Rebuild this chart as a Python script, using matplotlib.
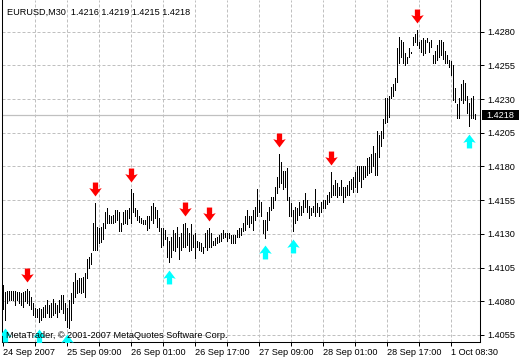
import numpy as np
import matplotlib
matplotlib.use("Agg")
from matplotlib import pyplot as plt
from matplotlib import transforms
from matplotlib.path import Path
from matplotlib.patches import Rectangle

# EURUSD M30 bars (one value per bar)
symbol = "EURUSD,M30"
last_ohlc = [1.4216, 1.4219, 1.4215, 1.4218]

highs = [
    1.4092, 1.4087, 1.4088, 1.4088, 1.4088, 1.4088, 1.4088, 1.4087, 1.4087, 1.4086,
    1.4087, 1.4088, 1.4089, 1.4088, 1.4083, 1.4079, 1.4075, 1.4074, 1.4075, 1.4074,
    1.4076, 1.4077, 1.4081, 1.4077, 1.4079, 1.4082, 1.4079, 1.4077, 1.4081, 1.4085,
    1.4085, 1.4079, 1.4075, 1.4081, 1.4086, 1.4094, 1.4101, 1.4096, 1.4097, 1.4097,
    1.4098, 1.4101, 1.4111, 1.4113, 1.4116, 1.4138, 1.4153, 1.4135, 1.4134, 1.4135,
    1.4138, 1.4146, 1.4149, 1.4144, 1.4143, 1.4144, 1.4148, 1.4148, 1.4146, 1.4138,
    1.4146, 1.4148, 1.4148, 1.4149, 1.4163, 1.4160, 1.4149, 1.4148, 1.4143, 1.4142,
    1.4140, 1.4140, 1.4143, 1.4143, 1.4151, 1.4153, 1.4150, 1.4148, 1.4142, 1.4134,
    1.4134, 1.4133, 1.4128, 1.4125, 1.4128, 1.4133, 1.4131, 1.4135, 1.4128, 1.4131,
    1.4137, 1.4138, 1.4134, 1.4131, 1.4137, 1.4129, 1.4131, 1.4125, 1.4124, 1.4123,
    1.4120, 1.4131, 1.4133, 1.4134, 1.4131, 1.4125, 1.4127, 1.4128, 1.4129, 1.4131,
    1.4133, 1.4131, 1.4131, 1.4131, 1.4129, 1.4129, 1.4129, 1.4133, 1.4134, 1.4134,
    1.4138, 1.4143, 1.4148, 1.4143, 1.4143, 1.4148, 1.4150, 1.4163, 1.4155, 1.4154,
    1.4140, 1.4140, 1.4146, 1.4150, 1.4157, 1.4157, 1.4165, 1.4172, 1.4189, 1.4183,
    1.4177, 1.4177, 1.4179, 1.4157, 1.4153, 1.4148, 1.4150, 1.4149, 1.4154, 1.4151,
    1.4155, 1.4160, 1.4155, 1.4151, 1.4149, 1.4151, 1.4163, 1.4153, 1.4150, 1.4154,
    1.4155, 1.4155, 1.4159, 1.4161, 1.4176, 1.4166, 1.4170, 1.4168, 1.4165, 1.4170,
    1.4165, 1.4165, 1.4166, 1.4169, 1.4171, 1.4172, 1.4176, 1.4180, 1.4180, 1.4180,
    1.4180, 1.4180, 1.4186, 1.4187, 1.4189, 1.4195, 1.4190, 1.4206, 1.4203, 1.4206,
    1.4215, 1.4231, 1.4231, 1.4232, 1.4239, 1.4241, 1.4246, 1.4268, 1.4276, 1.4274,
    1.4272, 1.4264, 1.4261, 1.4268, 1.4265, 1.4276, 1.4278, 1.4281, 1.4272, 1.4274,
    1.4275, 1.4274, 1.4275, 1.4272, 1.4274, 1.4263, 1.4266, 1.4270, 1.4274, 1.4274,
    1.4272, 1.4266, 1.4263, 1.4259, 1.4258, 1.4255, 1.4238, 1.4226, 1.4231, 1.4241,
    1.4244, 1.4242, 1.4232, 1.4227, 1.4231, 1.4232, 1.4219,
]

lows = [
    1.4074, 1.4066, 1.4079, 1.4081, 1.4081, 1.4081, 1.4077, 1.4081, 1.4079, 1.4077,
    1.4076, 1.4080, 1.4079, 1.4077, 1.4074, 1.4070, 1.4068, 1.4068, 1.4065, 1.4066,
    1.4068, 1.4068, 1.4071, 1.4068, 1.4068, 1.4070, 1.4071, 1.4068, 1.4072, 1.4074,
    1.4071, 1.4066, 1.4061, 1.4060, 1.4066, 1.4079, 1.4083, 1.4086, 1.4087, 1.4086,
    1.4087, 1.4083, 1.4097, 1.4105, 1.4108, 1.4118, 1.4118, 1.4118, 1.4123, 1.4124,
    1.4126, 1.4134, 1.4138, 1.4138, 1.4138, 1.4138, 1.4139, 1.4140, 1.4132, 1.4132,
    1.4137, 1.4138, 1.4137, 1.4142, 1.4138, 1.4146, 1.4143, 1.4140, 1.4139, 1.4138,
    1.4137, 1.4137, 1.4133, 1.4134, 1.4140, 1.4138, 1.4142, 1.4135, 1.4132, 1.4120,
    1.4122, 1.4126, 1.4113, 1.4109, 1.4113, 1.4118, 1.4117, 1.4120, 1.4111, 1.4118,
    1.4120, 1.4120, 1.4122, 1.4117, 1.4118, 1.4120, 1.4112, 1.4120, 1.4118, 1.4117,
    1.4116, 1.4120, 1.4118, 1.4120, 1.4120, 1.4122, 1.4122, 1.4123, 1.4124, 1.4125,
    1.4127, 1.4128, 1.4125, 1.4127, 1.4123, 1.4123, 1.4123, 1.4128, 1.4128, 1.4129,
    1.4132, 1.4133, 1.4137, 1.4135, 1.4138, 1.4133, 1.4140, 1.4143, 1.4146, 1.4143,
    1.4131, 1.4127, 1.4133, 1.4140, 1.4148, 1.4149, 1.4155, 1.4160, 1.4165, 1.4168,
    1.4163, 1.4165, 1.4155, 1.4143, 1.4143, 1.4132, 1.4138, 1.4140, 1.4144, 1.4144,
    1.4146, 1.4150, 1.4146, 1.4142, 1.4144, 1.4146, 1.4143, 1.4146, 1.4143, 1.4146,
    1.4149, 1.4149, 1.4152, 1.4154, 1.4157, 1.4159, 1.4159, 1.4157, 1.4159, 1.4159,
    1.4154, 1.4157, 1.4159, 1.4159, 1.4163, 1.4161, 1.4165, 1.4161, 1.4169, 1.4165,
    1.4171, 1.4172, 1.4174, 1.4175, 1.4176, 1.4180, 1.4174, 1.4174, 1.4187, 1.4195,
    1.4201, 1.4212, 1.4213, 1.4217, 1.4231, 1.4232, 1.4237, 1.4243, 1.4257, 1.4261,
    1.4257, 1.4255, 1.4257, 1.4261, 1.4264, 1.4270, 1.4272, 1.4270, 1.4268, 1.4265,
    1.4263, 1.4264, 1.4272, 1.4265, 1.4269, 1.4257, 1.4257, 1.4259, 1.4261, 1.4263,
    1.4260, 1.4257, 1.4257, 1.4254, 1.4248, 1.4229, 1.4228, 1.4216, 1.4216, 1.4229,
    1.4227, 1.4229, 1.4220, 1.4210, 1.4216, 1.4216, 1.4215,
]

# bars where the indicator put its arrows
sell_bars = [12, 46, 64, 91, 103, 138, 164, 207]
buy_bars = [1, 18, 32, 83, 131, 145, 233]

price_ticks = [1.4055, 1.4080, 1.4105, 1.4130, 1.4155, 1.4180, 1.4205, 1.4230, 1.4255, 1.4280]
time_labels = ['24 Sep 2007', '25 Sep 09:00', '26 Sep 01:00', '26 Sep 17:00',
               '27 Sep 09:00', '28 Sep 01:00', '28 Sep 17:00', '1 Oct 08:30']
label_step = 32   # bars between time labels
grid_step = 16    # bars between vertical grid lines

plt.rcParams['font.family'] = ['Liberation Sans', 'DejaVu Sans']
plt.rcParams['font.size'] = 6.6

W, H = 520, 360
fig = plt.figure(figsize=(W / 100, H / 100), dpi=100)
fig.patch.set_facecolor('white')
ax = fig.add_axes([2 / W, 18 / H, 478 / W, 342 / H])
ax.set_facecolor('white')

x = np.arange(len(highs))
ymin, ymax = 1.40498, 1.43035
ax.set_xlim(-0.65, 238.35)
ax.set_ylim(ymin, ymax)

grid_kw = dict(color='#c0c0c0', lw=0.72, ls=(0, (3, 2)), zorder=0)
for p in price_ticks:
    ax.axhline(p, **grid_kw)
for i in range(grid_step, 239, grid_step):
    ax.axvline(i, **grid_kw)

last_price = last_ohlc[3]
ax.axhline(last_price, color='#c0c0c0', lw=0.9, zorder=1)

ax.vlines(x, lows, highs, colors='black', linewidth=0.72, antialiased=False, zorder=3)

# arrow markers (thick Wingdings-like arrows)
down_verts = [(-0.19, 0.5), (0.19, 0.5), (0.19, 0.02), (0.45, 0.1), (0.0, -0.5),
              (-0.45, 0.1), (-0.19, 0.02), (-0.19, 0.5)]
codes = [Path.MOVETO] + [Path.LINETO] * 6 + [Path.CLOSEPOLY]
down_arrow = Path(down_verts, codes)
up_arrow = Path([(vx, -vy) for vx, vy in down_verts], codes)

above = transforms.offset_copy(ax.transData, fig=fig, x=0, y=14, units='dots')
below = transforms.offset_copy(ax.transData, fig=fig, x=0, y=-14.5, units='dots')
ax.plot(sell_bars, [highs[i] for i in sell_bars], ls='none', marker=down_arrow, ms=10,
        mfc='#ff0000', mec='#ff0000', mew=0, transform=above, zorder=4)
ax.plot(buy_bars, [lows[i] for i in buy_bars], ls='none', marker=up_arrow, ms=10,
        mfc='#00ffff', mec='#00ffff', mew=0, transform=below, zorder=4)

for side in ['left', 'right', 'bottom']:
    ax.spines[side].set_color('black')
    ax.spines[side].set_linewidth(0.75)
ax.spines['top'].set_visible(False)

ax.yaxis.tick_right()
ax.set_yticks(price_ticks)
ax.set_yticklabels([f"{p:.4f}" for p in price_ticks])
ax.tick_params(axis='y', direction='out', length=2.9, width=0.72, pad=2.2, colors='black')

ax.set_xticks(range(0, len(highs), label_step))
ax.set_xticklabels(time_labels)
ax.set_xticks(range(grid_step, len(highs), label_step), minor=True)
ax.tick_params(axis='x', which='both', direction='out', length=2.9, width=0.72, pad=1.2)
for lbl in ax.get_xticklabels():
    lbl.set_horizontalalignment('left')

# last price tag on the price scale
tag = transforms.blended_transform_factory(ax.transAxes, ax.transData)
tag_h = 10 / 342 * (ymax - ymin)
ax.add_patch(Rectangle((1.0036, last_price - tag_h / 2), 37 / 478, tag_h,
                       transform=tag, facecolor='black', edgecolor='none',
                       clip_on=False, zorder=5))
ax.text(1.0036 + 37 / 478 / 2, last_price, f"{last_price:.4f}", transform=tag,
        color='white', ha='center', va='center', zorder=6, clip_on=False)

fig.text(7 / W, 1 - 15 / H, f"{symbol}  " + " ".join(f"{v:.4f}" for v in last_ohlc),
         va='baseline', ha='left', color='black')
fig.text(6.5 / W, 1 - 338 / H, "MetaTrader, \u00a9 2001-2007 MetaQuotes Software Corp.",
         va='baseline', ha='left', color='black')

fig.savefig('out.png', dpi=100)
